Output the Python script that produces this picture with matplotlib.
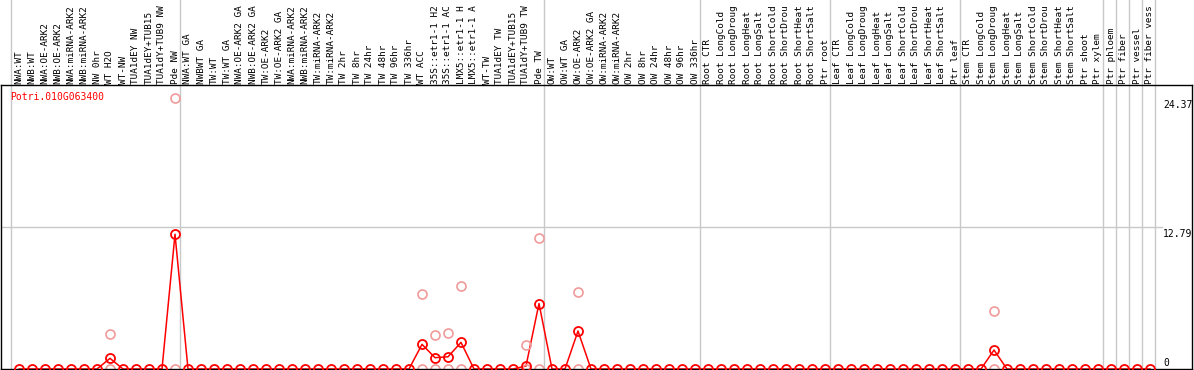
import matplotlib
matplotlib.use("Agg")
import matplotlib.pyplot as plt
import matplotlib.transforms as mtransforms
import numpy as np

gene = "Potri.010G063400"

samples = [
    "NWA:WT", "NWB:WT", "NWA:OE-ARK2", "NWB:OE-ARK2", "NWA:miRNA-ARK2", "NWB:miRNA-ARK2",
    "NW 0hr", "WT H2O", "WT-NW", "TUA1dEY NW", "TUA1dEY+TUB15", "TUA1dY+TUB9 NW", "Pde NW",
    "NWA:WT GA", "NWBWT GA", "TW:WT", "TW:WT GA", "NWA:OE-ARK2 GA", "NWB:OE-ARK2 GA",
    "TW:OE-ARK2", "TW:OE-ARK2 GA", "NWA:miRNA-ARK2", "NWB:miRNA-ARK2", "TW:miRNA-ARK2",
    "TW:miRNA-ARK2", "TW 2hr", "TW 8hr", "TW 24hr", "TW 48hr", "TW 96hr", "TW 336hr",
    "WT ACC", "35S::etr1-1 H2", "35S::etr1-1 AC", "LMX5::etr1-1 H", "LMX5::etr1-1 A",
    "WT-TW", "TUA1dEY TW", "TUA1dEY+TUB15", "TUA1dY+TUB9 TW", "Pde TW",
    "OW:WT", "OW:WT GA", "OW:OE-ARK2", "OW:OE-ARK2 GA", "OW:miRNA-ARK2", "OW:miRNA-ARK2",
    "OW 2hr", "OW 8hr", "OW 24hr", "OW 48hr", "OW 96hr", "OW 336hr",
    "Root CTR", "Root LongCold", "Root LongDroug", "Root LongHeat", "Root LongSalt",
    "Root ShortCold", "Root ShortDrou", "Root ShortHeat", "Root ShortSalt", "Ptr root",
    "Leaf CTR", "Leaf LongCold", "Leaf LongDroug", "Leaf LongHeat", "Leaf LongSalt",
    "Leaf ShortCold", "Leaf ShortDrou", "Leaf ShortHeat", "Leaf ShortSalt", "Ptr leaf",
    "Stem CTR", "Stem LongCold", "Stem LongDroug", "Stem LongHeat", "Stem LongSalt",
    "Stem ShortCold", "Stem ShortDrou", "Stem ShortHeat", "Stem ShortSalt",
    "Ptr shoot", "Ptr xylem", "Ptr phloem", "Ptr fiber", "Ptr vessel", "Ptr fiber vess",
]

# mean expression (nonzero ones only, rest are 0)
mean_vals = {7: 0.96, 12: 12.14, 31: 2.22, 32: 1.02, 33: 1.10, 34: 2.40,
             39: 0.27, 40: 5.90, 43: 3.42, 75: 1.71}
# replicate values (high one; other replicate is 0)
rep_vals = {7: 3.12, 12: 24.37, 31: 6.8, 32: 3.03, 33: 3.2, 34: 7.44,
            39: 2.16, 40: 11.84, 43: 6.9, 75: 5.2}

# group separators (after these columns)
separators = [-1, 12, 40, 52, 62, 72, 83, 84, 85, 86, 87]
ref_lines = [12.79]
y_labels = [24.37, 12.79, 0]

n = len(samples)
x = np.arange(n)
y = np.zeros(n)
for k, v in mean_vals.items():
    y[k] = v
rx = list(rep_vals.keys()) + list(rep_vals.keys())
ry = list(rep_vals.values()) + [0] * len(rep_vals)

W, H = 1194, 370
fig = plt.figure(figsize=(W / 100, H / 100), dpi=100)
ax = fig.add_axes([1 / W, 1 / H, (1192 - 1) / W, (369 - 85) / H])

font = "DejaVu Sans Mono"
fs = 7

ax.set_xlim((1 - 19) / 13, (1192 - 19) / 13)
ax.set_ylim(0, (369 - 85) / 11.1)
ax.set_xticks([])
ax.set_yticks([])
for s in ax.spines.values():
    s.set_color("black")
    s.set_linewidth(1)
    s.set_zorder(5)

grey = "#c8c8c8"
for k in separators:
    ax.axvline(k + 0.41, ymin=0, ymax=369 / 284, color=grey, lw=1, clip_on=False, zorder=0)
for r in ref_lines:
    ax.plot([ax.get_xlim()[0], 87.9], [r, r], color=grey, lw=1, zorder=0)

ax.plot(rx, ry, linestyle="none", marker="o", ms=6.5, mfc="none", mec="#f09a9a",
        mew=1.2, clip_on=False, zorder=2)
ax.plot(x, y, color="red", lw=1.1, zorder=1)
ax.plot(x, y, linestyle="none", marker="o", ms=6.5, mfc="none", mec="red",
        mew=1.3, clip_on=False, zorder=6)

trans = mtransforms.blended_transform_factory(ax.transData, fig.transFigure)
for i, lab in enumerate(samples):
    ax.text(i, (H - 84) / H, lab, rotation=90, ha="center", va="bottom",
            fontsize=6.75, family=font, transform=trans, clip_on=False)

ax.text(-0.69, 24.5, gene, color="red", fontsize=fs, family=font, ha="left", va="center")

for v in y_labels:
    if v == 0:
        ax.text(88.0, 0.1, "0", fontsize=fs, family=font, ha="left", va="bottom")
    else:
        ax.text(88.0, v - 0.15, f"{v:.2f}", fontsize=fs, family=font, ha="left", va="top")

fig.savefig("out.png", dpi=100)
